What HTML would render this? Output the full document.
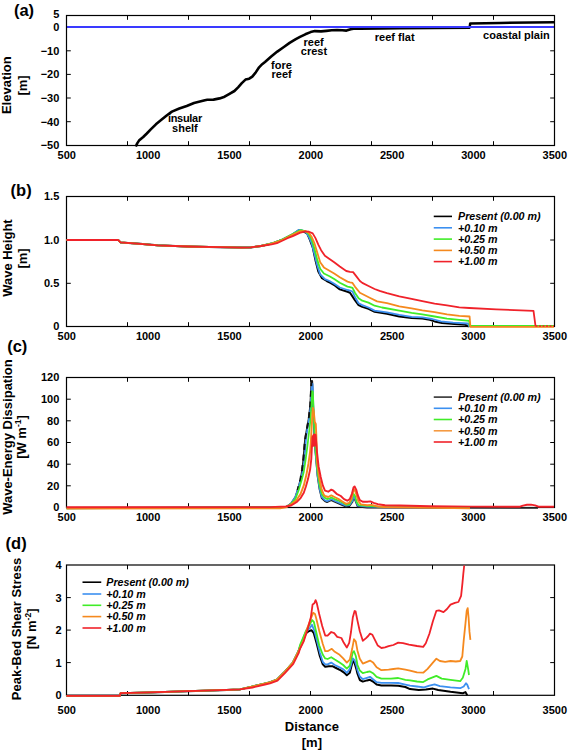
<!DOCTYPE html>
<html><head><meta charset="utf-8"><style>
html,body{margin:0;padding:0;background:#fff;}
body{width:568px;height:750px;overflow:hidden;}
svg{display:block;font-family:"Liberation Sans", sans-serif;}
</style></head><body>
<svg width="568" height="750" viewBox="0 0 568 750">
<rect width="568" height="750" fill="#fff"/>
<text x="13.9" y="16.4" font-size="16.5" font-weight="bold" font-style="normal" text-anchor="start" fill="#000">(a)</text>
<polyline points="135.80,146.50 137.20,143.40 139.00,140.60 143.20,137.00 146.80,133.50 151.00,129.20 155.90,124.30 162.00,119.30 167.00,115.20 171.90,111.60 179.30,108.50 186.70,106.00 194.00,103.00 199.90,101.50 204.90,100.20 207.30,99.70 213.50,99.60 219.60,98.40 224.60,96.70 229.50,93.80 234.40,91.00 238.10,87.30 241.80,83.10 245.50,79.60 249.20,78.70 252.30,76.60 255.40,72.90 259.10,67.30 262.20,64.20 265.00,62.00 271.20,56.50 277.30,51.60 283.50,47.30 289.60,42.90 295.80,39.20 300.00,36.90 305.30,34.30 310.60,32.10 314.80,31.10 321.10,31.40 326.40,30.90 331.70,30.30 337.00,30.00 342.20,30.30 346.50,30.60 350.70,29.30 354.90,28.40 360.00,28.70 382.00,28.40 400.00,28.20" fill="none" stroke="#000000" stroke-width="2.6" stroke-linejoin="round" stroke-linecap="butt" />
<polyline points="400.00,28.20 469.60,27.70 470.20,23.40 500.00,22.90 554.00,22.30" fill="none" stroke="#000000" stroke-width="2.5" stroke-linejoin="round" stroke-linecap="butt" />
<line x1="66.5" y1="27.1" x2="554.5" y2="27.1" stroke="#3a3aff" stroke-width="2.0"/>
<rect x="66.5" y="15.5" width="488.0" height="130.0" fill="none" stroke="#000" stroke-width="1.2"/>
<line x1="127.5" y1="145.5" x2="127.5" y2="141.2" stroke="#000" stroke-width="1"/>
<line x1="127.5" y1="15.5" x2="127.5" y2="19.8" stroke="#000" stroke-width="1"/>
<line x1="188.5" y1="145.5" x2="188.5" y2="141.2" stroke="#000" stroke-width="1"/>
<line x1="188.5" y1="15.5" x2="188.5" y2="19.8" stroke="#000" stroke-width="1"/>
<line x1="249.5" y1="145.5" x2="249.5" y2="141.2" stroke="#000" stroke-width="1"/>
<line x1="249.5" y1="15.5" x2="249.5" y2="19.8" stroke="#000" stroke-width="1"/>
<line x1="310.5" y1="145.5" x2="310.5" y2="141.2" stroke="#000" stroke-width="1"/>
<line x1="310.5" y1="15.5" x2="310.5" y2="19.8" stroke="#000" stroke-width="1"/>
<line x1="371.5" y1="145.5" x2="371.5" y2="141.2" stroke="#000" stroke-width="1"/>
<line x1="371.5" y1="15.5" x2="371.5" y2="19.8" stroke="#000" stroke-width="1"/>
<line x1="432.5" y1="145.5" x2="432.5" y2="141.2" stroke="#000" stroke-width="1"/>
<line x1="432.5" y1="15.5" x2="432.5" y2="19.8" stroke="#000" stroke-width="1"/>
<line x1="493.5" y1="145.5" x2="493.5" y2="141.2" stroke="#000" stroke-width="1"/>
<line x1="493.5" y1="15.5" x2="493.5" y2="19.8" stroke="#000" stroke-width="1"/>
<line x1="66.5" y1="50.8" x2="70.8" y2="50.8" stroke="#000" stroke-width="1"/>
<line x1="554.5" y1="50.8" x2="550.2" y2="50.8" stroke="#000" stroke-width="1"/>
<line x1="66.5" y1="74.4" x2="70.8" y2="74.4" stroke="#000" stroke-width="1"/>
<line x1="554.5" y1="74.4" x2="550.2" y2="74.4" stroke="#000" stroke-width="1"/>
<line x1="66.5" y1="98.0" x2="70.8" y2="98.0" stroke="#000" stroke-width="1"/>
<line x1="554.5" y1="98.0" x2="550.2" y2="98.0" stroke="#000" stroke-width="1"/>
<line x1="66.5" y1="121.7" x2="70.8" y2="121.7" stroke="#000" stroke-width="1"/>
<line x1="554.5" y1="121.7" x2="550.2" y2="121.7" stroke="#000" stroke-width="1"/>
<text x="59.3" y="18.4" font-size="11" font-weight="bold" font-style="normal" text-anchor="end" fill="#000">5</text>
<text x="59.3" y="31.0" font-size="11" font-weight="bold" font-style="normal" text-anchor="end" fill="#000">0</text>
<text x="59.3" y="54.699999999999996" font-size="11" font-weight="bold" font-style="normal" text-anchor="end" fill="#000">&#8722;10</text>
<text x="59.3" y="78.30000000000001" font-size="11" font-weight="bold" font-style="normal" text-anchor="end" fill="#000">&#8722;20</text>
<text x="59.3" y="101.9" font-size="11" font-weight="bold" font-style="normal" text-anchor="end" fill="#000">&#8722;30</text>
<text x="59.3" y="125.60000000000001" font-size="11" font-weight="bold" font-style="normal" text-anchor="end" fill="#000">&#8722;40</text>
<text x="59.3" y="149.20000000000002" font-size="11" font-weight="bold" font-style="normal" text-anchor="end" fill="#000">&#8722;50</text>
<text x="66.8" y="158.9" font-size="11" font-weight="bold" font-style="normal" text-anchor="middle" fill="#000">500</text>
<text x="148.13" y="158.9" font-size="11" font-weight="bold" font-style="normal" text-anchor="middle" fill="#000">1000</text>
<text x="229.46" y="158.9" font-size="11" font-weight="bold" font-style="normal" text-anchor="middle" fill="#000">1500</text>
<text x="310.79" y="158.9" font-size="11" font-weight="bold" font-style="normal" text-anchor="middle" fill="#000">2000</text>
<text x="392.12" y="158.9" font-size="11" font-weight="bold" font-style="normal" text-anchor="middle" fill="#000">2500</text>
<text x="473.45" y="158.9" font-size="11" font-weight="bold" font-style="normal" text-anchor="middle" fill="#000">3000</text>
<text x="554.78" y="158.9" font-size="11" font-weight="bold" font-style="normal" text-anchor="middle" fill="#000">3500</text>
<text x="11.5" y="85.2" font-size="13" font-weight="bold" font-style="normal" text-anchor="middle" fill="#000" transform="rotate(-90 11.5 85.2)">Elevation</text>
<text x="27.2" y="85.4" font-size="13" font-weight="bold" font-style="normal" text-anchor="middle" fill="#000" transform="rotate(-90 27.2 85.4)">[m]</text>
<text x="184.9" y="122.1" font-size="11" font-weight="bold" font-style="normal" text-anchor="middle" fill="#000" letter-spacing="-0.3">insular</text>
<text x="184.9" y="131.6" font-size="11" font-weight="bold" font-style="normal" text-anchor="middle" fill="#000">shelf</text>
<text x="281.5" y="68.7" font-size="11" font-weight="bold" font-style="normal" text-anchor="middle" fill="#000">fore</text>
<text x="281.7" y="78.3" font-size="11" font-weight="bold" font-style="normal" text-anchor="middle" fill="#000">reef</text>
<text x="313.6" y="45.6" font-size="11" font-weight="bold" font-style="normal" text-anchor="middle" fill="#000">reef</text>
<text x="314.0" y="54.8" font-size="11" font-weight="bold" font-style="normal" text-anchor="middle" fill="#000">crest</text>
<text x="394.7" y="41.4" font-size="11" font-weight="bold" font-style="normal" text-anchor="middle" fill="#000">reef flat</text>
<text x="516.4" y="38.6" font-size="11" font-weight="bold" font-style="normal" text-anchor="middle" fill="#000">coastal plain</text>
<text x="10.6" y="195.6" font-size="16.5" font-weight="bold" font-style="normal" text-anchor="start" fill="#000">(b)</text>
<rect x="66.5" y="196.5" width="488.0" height="130.0" fill="none" stroke="#000" stroke-width="1.2"/>
<line x1="127.5" y1="326.5" x2="127.5" y2="322.2" stroke="#000" stroke-width="1"/>
<line x1="127.5" y1="196.5" x2="127.5" y2="200.8" stroke="#000" stroke-width="1"/>
<line x1="188.5" y1="326.5" x2="188.5" y2="322.2" stroke="#000" stroke-width="1"/>
<line x1="188.5" y1="196.5" x2="188.5" y2="200.8" stroke="#000" stroke-width="1"/>
<line x1="249.5" y1="326.5" x2="249.5" y2="322.2" stroke="#000" stroke-width="1"/>
<line x1="249.5" y1="196.5" x2="249.5" y2="200.8" stroke="#000" stroke-width="1"/>
<line x1="310.5" y1="326.5" x2="310.5" y2="322.2" stroke="#000" stroke-width="1"/>
<line x1="310.5" y1="196.5" x2="310.5" y2="200.8" stroke="#000" stroke-width="1"/>
<line x1="371.5" y1="326.5" x2="371.5" y2="322.2" stroke="#000" stroke-width="1"/>
<line x1="371.5" y1="196.5" x2="371.5" y2="200.8" stroke="#000" stroke-width="1"/>
<line x1="432.5" y1="326.5" x2="432.5" y2="322.2" stroke="#000" stroke-width="1"/>
<line x1="432.5" y1="196.5" x2="432.5" y2="200.8" stroke="#000" stroke-width="1"/>
<line x1="493.5" y1="326.5" x2="493.5" y2="322.2" stroke="#000" stroke-width="1"/>
<line x1="493.5" y1="196.5" x2="493.5" y2="200.8" stroke="#000" stroke-width="1"/>
<line x1="66.5" y1="240.0" x2="70.8" y2="240.0" stroke="#000" stroke-width="1"/>
<line x1="554.5" y1="240.0" x2="550.2" y2="240.0" stroke="#000" stroke-width="1"/>
<line x1="66.5" y1="283.3" x2="70.8" y2="283.3" stroke="#000" stroke-width="1"/>
<line x1="554.5" y1="283.3" x2="550.2" y2="283.3" stroke="#000" stroke-width="1"/>
<text x="59.3" y="200.4" font-size="11" font-weight="bold" font-style="normal" text-anchor="end" fill="#000">1.5</text>
<text x="59.3" y="243.9" font-size="11" font-weight="bold" font-style="normal" text-anchor="end" fill="#000">1.0</text>
<text x="59.3" y="287.2" font-size="11" font-weight="bold" font-style="normal" text-anchor="end" fill="#000">0.5</text>
<text x="59.3" y="330.4" font-size="11" font-weight="bold" font-style="normal" text-anchor="end" fill="#000">0</text>
<text x="66.8" y="339.9" font-size="11" font-weight="bold" font-style="normal" text-anchor="middle" fill="#000">500</text>
<text x="148.13" y="339.9" font-size="11" font-weight="bold" font-style="normal" text-anchor="middle" fill="#000">1000</text>
<text x="229.46" y="339.9" font-size="11" font-weight="bold" font-style="normal" text-anchor="middle" fill="#000">1500</text>
<text x="310.79" y="339.9" font-size="11" font-weight="bold" font-style="normal" text-anchor="middle" fill="#000">2000</text>
<text x="392.12" y="339.9" font-size="11" font-weight="bold" font-style="normal" text-anchor="middle" fill="#000">2500</text>
<text x="473.45" y="339.9" font-size="11" font-weight="bold" font-style="normal" text-anchor="middle" fill="#000">3000</text>
<text x="554.78" y="339.9" font-size="11" font-weight="bold" font-style="normal" text-anchor="middle" fill="#000">3500</text>
<polyline points="66.50,240.00 118.20,240.00 120.50,242.40 140.00,243.80 157.50,245.30 187.50,246.50 220.00,247.20 242.00,247.60 250.60,247.40 261.10,246.00 271.70,243.60 282.20,239.80 292.80,234.30 298.70,230.30 302.00,230.80 307.10,233.40 309.90,239.90 312.70,247.40 315.50,260.40 318.30,271.60 322.00,278.20 326.70,281.00 330.40,282.80 335.10,285.60 339.80,289.40 347.50,291.80 350.00,292.70 354.90,300.10 358.60,305.10 362.30,306.90 368.50,308.80 374.60,311.80 387.00,313.70 399.30,316.50 411.60,318.00 422.30,318.60 429.70,319.80 434.60,321.40 442.00,323.00 454.40,323.90 465.50,324.80 468.80,326.50" fill="none" stroke="#000000" stroke-width="2.0" stroke-linejoin="round" stroke-linecap="butt" />
<polyline points="66.50,240.00 118.20,240.00 120.50,242.40 140.00,243.80 157.50,245.30 187.50,246.50 220.00,247.20 242.00,247.60 250.60,247.40 261.10,246.00 271.70,243.50 282.20,239.60 292.80,234.00 298.70,229.90 302.00,230.30 306.20,232.50 309.00,237.10 311.80,243.70 314.60,254.90 317.40,266.00 320.20,274.40 324.90,279.10 329.50,281.00 334.20,283.80 339.80,287.50 347.50,290.00 350.00,290.60 352.50,291.50 354.90,297.00 358.60,303.20 362.30,305.10 368.50,307.50 374.60,310.60 387.00,312.40 399.30,314.90 411.60,316.80 422.30,317.40 432.20,319.00 440.80,321.40 453.10,322.70 467.90,323.50 469.30,326.50" fill="none" stroke="#3c90f0" stroke-width="1.8" stroke-linejoin="round" stroke-linecap="butt" />
<polyline points="66.50,240.00 118.20,240.00 120.50,242.40 140.00,243.80 157.50,245.30 187.50,246.50 220.00,247.20 242.00,247.60 250.60,247.40 261.10,246.00 271.70,243.50 282.20,239.60 292.80,234.00 300.60,230.10 305.30,231.10 309.00,234.30 311.80,239.90 314.60,249.30 317.40,260.40 320.20,268.80 323.90,273.50 329.50,276.30 334.20,279.10 339.80,282.80 347.50,286.60 350.00,287.20 352.50,287.80 354.90,292.70 358.60,298.30 362.30,300.70 368.50,302.60 374.60,305.70 382.00,307.50 399.30,310.60 411.60,312.80 422.30,314.40 434.60,316.50 447.00,318.60 459.30,319.80 469.20,320.80 469.80,326.00 554.00,326.00" fill="none" stroke="#40ec28" stroke-width="1.8" stroke-linejoin="round" stroke-linecap="butt" />
<polyline points="66.50,240.00 118.20,240.00 120.50,242.40 140.00,243.80 157.50,245.30 187.50,246.50 220.00,247.20 242.00,247.60 250.60,247.40 261.10,246.00 271.70,243.60 282.20,240.00 292.80,234.50 300.00,231.20 305.30,231.10 309.00,232.90 311.80,237.10 314.60,243.70 317.40,253.00 320.20,262.30 323.90,267.40 328.60,270.20 334.20,273.50 339.80,277.20 347.50,281.60 350.00,282.30 352.50,282.90 354.90,286.60 359.90,292.70 364.80,295.20 369.70,297.70 377.10,301.40 387.00,303.20 399.30,306.30 411.60,308.40 422.30,310.30 434.60,312.20 447.00,314.40 459.30,315.90 469.60,316.50 470.40,326.90 554.00,326.90" fill="none" stroke="#f5891e" stroke-width="1.8" stroke-linejoin="round" stroke-linecap="butt" />
<polyline points="66.50,240.00 118.20,240.00 120.50,242.40 140.00,243.80 157.50,245.30 187.50,246.50 220.00,247.20 242.00,247.60 250.60,247.40 261.10,246.00 271.70,244.30 277.00,243.20 282.20,240.80 287.50,238.20 292.80,236.10 299.70,232.90 305.30,231.30 309.00,231.70 312.70,233.40 315.50,238.10 318.30,244.60 321.10,250.20 324.90,255.80 329.50,259.00 334.20,262.30 339.80,266.50 346.25,271.00 350.00,271.80 353.10,272.10 356.20,276.10 359.90,281.00 362.30,282.90 368.50,286.00 374.60,289.00 379.60,290.90 387.00,293.10 399.30,296.40 411.60,298.90 422.30,301.10 434.60,303.60 447.00,305.40 459.30,307.30 469.30,308.00 496.30,309.30 533.50,310.90 535.50,326.00" fill="none" stroke="#f0222a" stroke-width="1.8" stroke-linejoin="round" stroke-linecap="butt" />
<polyline points="535.50,326.00 554.00,326.00" fill="none" stroke="#f0222a" stroke-width="1.4" stroke-linejoin="round" stroke-linecap="butt" stroke-dasharray="2,1.5"/>
<line x1="433.75" y1="216.4" x2="452" y2="216.4" stroke="#000000" stroke-width="1.6"/>
<text x="458" y="220.25" font-size="10.7" font-weight="bold" font-style="italic" text-anchor="start" fill="#000">Present (0.00 m)</text>
<line x1="433.75" y1="227.8" x2="452" y2="227.8" stroke="#3c90f0" stroke-width="1.6"/>
<text x="458" y="231.65" font-size="10.7" font-weight="bold" font-style="italic" text-anchor="start" fill="#000">+0.10 m</text>
<line x1="433.75" y1="239.1" x2="452" y2="239.1" stroke="#40ec28" stroke-width="1.6"/>
<text x="458" y="242.95" font-size="10.7" font-weight="bold" font-style="italic" text-anchor="start" fill="#000">+0.25 m</text>
<line x1="433.75" y1="250.4" x2="452" y2="250.4" stroke="#f5891e" stroke-width="1.6"/>
<text x="458" y="254.25" font-size="10.7" font-weight="bold" font-style="italic" text-anchor="start" fill="#000">+0.50 m</text>
<line x1="433.75" y1="261.6" x2="452" y2="261.6" stroke="#f0222a" stroke-width="1.6"/>
<text x="458" y="265.45000000000005" font-size="10.7" font-weight="bold" font-style="italic" text-anchor="start" fill="#000">+1.00 m</text>
<text x="12.0" y="258.1" font-size="13" font-weight="bold" font-style="normal" text-anchor="middle" fill="#000" transform="rotate(-90 12.0 258.1)">Wave Height</text>
<text x="27.3" y="258.5" font-size="13" font-weight="bold" font-style="normal" text-anchor="middle" fill="#000" transform="rotate(-90 27.3 258.5)">[m]</text>
<text x="7.2" y="351.9" font-size="16.5" font-weight="bold" font-style="normal" text-anchor="start" fill="#000">(c)</text>
<rect x="66.5" y="377.5" width="488.0" height="130.0" fill="none" stroke="#000" stroke-width="1.2"/>
<line x1="127.5" y1="507.5" x2="127.5" y2="503.2" stroke="#000" stroke-width="1"/>
<line x1="127.5" y1="377.5" x2="127.5" y2="381.8" stroke="#000" stroke-width="1"/>
<line x1="188.5" y1="507.5" x2="188.5" y2="503.2" stroke="#000" stroke-width="1"/>
<line x1="188.5" y1="377.5" x2="188.5" y2="381.8" stroke="#000" stroke-width="1"/>
<line x1="249.5" y1="507.5" x2="249.5" y2="503.2" stroke="#000" stroke-width="1"/>
<line x1="249.5" y1="377.5" x2="249.5" y2="381.8" stroke="#000" stroke-width="1"/>
<line x1="310.5" y1="507.5" x2="310.5" y2="503.2" stroke="#000" stroke-width="1"/>
<line x1="310.5" y1="377.5" x2="310.5" y2="381.8" stroke="#000" stroke-width="1"/>
<line x1="371.5" y1="507.5" x2="371.5" y2="503.2" stroke="#000" stroke-width="1"/>
<line x1="371.5" y1="377.5" x2="371.5" y2="381.8" stroke="#000" stroke-width="1"/>
<line x1="432.5" y1="507.5" x2="432.5" y2="503.2" stroke="#000" stroke-width="1"/>
<line x1="432.5" y1="377.5" x2="432.5" y2="381.8" stroke="#000" stroke-width="1"/>
<line x1="493.5" y1="507.5" x2="493.5" y2="503.2" stroke="#000" stroke-width="1"/>
<line x1="493.5" y1="377.5" x2="493.5" y2="381.8" stroke="#000" stroke-width="1"/>
<line x1="66.5" y1="399.2" x2="70.8" y2="399.2" stroke="#000" stroke-width="1"/>
<line x1="554.5" y1="399.2" x2="550.2" y2="399.2" stroke="#000" stroke-width="1"/>
<line x1="66.5" y1="420.8" x2="70.8" y2="420.8" stroke="#000" stroke-width="1"/>
<line x1="554.5" y1="420.8" x2="550.2" y2="420.8" stroke="#000" stroke-width="1"/>
<line x1="66.5" y1="442.5" x2="70.8" y2="442.5" stroke="#000" stroke-width="1"/>
<line x1="554.5" y1="442.5" x2="550.2" y2="442.5" stroke="#000" stroke-width="1"/>
<line x1="66.5" y1="464.2" x2="70.8" y2="464.2" stroke="#000" stroke-width="1"/>
<line x1="554.5" y1="464.2" x2="550.2" y2="464.2" stroke="#000" stroke-width="1"/>
<line x1="66.5" y1="485.8" x2="70.8" y2="485.8" stroke="#000" stroke-width="1"/>
<line x1="554.5" y1="485.8" x2="550.2" y2="485.8" stroke="#000" stroke-width="1"/>
<text x="59.3" y="381.4" font-size="11" font-weight="bold" font-style="normal" text-anchor="end" fill="#000">120</text>
<text x="59.3" y="403.09999999999997" font-size="11" font-weight="bold" font-style="normal" text-anchor="end" fill="#000">100</text>
<text x="59.3" y="424.7" font-size="11" font-weight="bold" font-style="normal" text-anchor="end" fill="#000">80</text>
<text x="59.3" y="446.4" font-size="11" font-weight="bold" font-style="normal" text-anchor="end" fill="#000">60</text>
<text x="59.3" y="468.09999999999997" font-size="11" font-weight="bold" font-style="normal" text-anchor="end" fill="#000">40</text>
<text x="59.3" y="489.7" font-size="11" font-weight="bold" font-style="normal" text-anchor="end" fill="#000">20</text>
<text x="59.3" y="511.4" font-size="11" font-weight="bold" font-style="normal" text-anchor="end" fill="#000">0</text>
<text x="66.8" y="521.1" font-size="11" font-weight="bold" font-style="normal" text-anchor="middle" fill="#000">500</text>
<text x="148.13" y="521.1" font-size="11" font-weight="bold" font-style="normal" text-anchor="middle" fill="#000">1000</text>
<text x="229.46" y="521.1" font-size="11" font-weight="bold" font-style="normal" text-anchor="middle" fill="#000">1500</text>
<text x="310.79" y="521.1" font-size="11" font-weight="bold" font-style="normal" text-anchor="middle" fill="#000">2000</text>
<text x="392.12" y="521.1" font-size="11" font-weight="bold" font-style="normal" text-anchor="middle" fill="#000">2500</text>
<text x="473.45" y="521.1" font-size="11" font-weight="bold" font-style="normal" text-anchor="middle" fill="#000">3000</text>
<text x="554.78" y="521.1" font-size="11" font-weight="bold" font-style="normal" text-anchor="middle" fill="#000">3500</text>
<polyline points="66.50,508.00 285.80,507.20 291.10,503.60 295.30,497.20 298.30,488.00 300.80,478.50 302.50,468.00 303.30,460.00 305.00,440.00 306.70,430.00 308.70,419.00 310.30,405.00 311.50,381.00 312.20,381.00 312.80,395.00 313.60,420.00 314.60,440.00 315.40,451.00 317.50,475.50 319.60,489.50 321.70,498.00 324.90,501.20 327.00,502.20 330.00,500.80 331.30,500.10 334.50,501.70 343.00,505.40 346.10,506.70 349.30,506.20 352.50,501.70 353.70,497.20 355.60,501.20 357.70,506.70 367.20,507.60 538.00,507.90" fill="none" stroke="#222" stroke-width="1.8" stroke-linejoin="round" stroke-linecap="butt" />
<polyline points="66.50,508.30 285.80,507.20 291.10,503.40 295.30,497.00 298.50,487.50 301.20,478.00 303.30,468.50 304.80,455.80 305.90,440.00 307.50,428.00 309.20,418.00 310.60,407.00 311.90,383.50 312.60,384.00 313.00,395.00 313.80,420.00 314.80,440.00 315.40,450.60 317.50,474.80 319.60,488.60 321.70,497.00 324.90,500.20 327.00,501.20 330.00,499.90 331.30,499.10 334.50,500.70 343.00,504.40 346.10,505.70 349.30,505.20 352.50,500.70 353.70,496.00 355.60,500.20 357.70,505.70 367.20,506.70 400.00,507.20 470.00,507.50" fill="none" stroke="#3c90f0" stroke-width="1.7" stroke-linejoin="round" stroke-linecap="butt" />
<polyline points="297.50,490.00 300.30,480.00 302.00,470.00 303.30,460.00 305.00,440.00 306.70,430.00 308.70,419.00 310.30,405.00 311.50,381.00" fill="none" stroke="#111" stroke-width="2.0" stroke-linejoin="round" stroke-linecap="butt" stroke-dasharray="6,4.7" stroke-dashoffset="2"/>
<polyline points="66.50,508.30 285.80,507.10 291.10,503.90 295.30,499.10 298.50,490.70 301.70,480.10 303.80,471.70 305.90,458.00 307.50,445.30 308.50,437.00 310.50,420.00 311.50,405.00 312.20,391.00 312.90,392.00 313.40,405.00 314.40,430.00 315.40,448.40 317.50,471.70 319.60,485.40 321.70,493.90 324.40,497.60 327.00,499.10 330.00,498.30 331.30,497.50 334.50,499.10 338.70,500.70 343.00,502.80 346.10,504.90 349.30,504.40 351.90,499.10 353.50,493.80 355.10,496.00 356.70,502.30 358.80,505.20 367.20,506.00 385.00,507.00 470.00,507.40" fill="none" stroke="#40ec28" stroke-width="1.7" stroke-linejoin="round" stroke-linecap="butt" />
<polyline points="66.50,508.60 280.00,508.40 285.80,507.30 291.10,504.40 296.40,500.20 300.60,493.90 303.80,485.40 306.40,474.80 308.50,463.20 310.10,451.60 310.80,443.00 311.50,430.00 312.20,418.00 312.90,408.00 313.70,411.00 314.80,422.00 315.80,424.00 316.30,435.00 316.60,445.00 317.00,461.10 319.10,477.00 321.70,489.60 323.90,494.90 325.00,496.00 328.20,497.00 331.30,495.40 334.50,497.00 338.70,499.10 341.90,501.20 346.10,503.90 349.30,502.80 351.40,499.10 353.30,490.70 354.60,489.60 356.20,493.80 358.30,501.20 360.90,504.40 367.20,505.20 371.50,504.90 377.80,506.50 385.00,507.00 470.00,508.40" fill="none" stroke="#f5891e" stroke-width="1.9" stroke-linejoin="round" stroke-linecap="butt" />
<polyline points="66.50,507.20 270.00,507.10 285.80,506.50 291.10,505.50 296.40,502.30 300.60,498.10 303.80,492.80 305.90,486.50 308.00,479.10 310.10,469.60 311.30,459.00 311.90,447.00 312.50,437.00 314.00,434.50 315.60,435.00 316.40,444.00 317.00,452.00 318.60,466.40 320.70,477.00 322.80,485.40 325.00,490.70 328.20,491.70 331.30,489.60 333.40,490.70 336.60,493.80 340.80,496.00 344.00,499.10 347.20,500.70 349.80,499.10 351.90,493.80 353.50,487.50 354.60,486.40 356.20,489.60 357.70,494.90 359.80,500.20 363.00,501.80 367.20,501.80 370.40,501.40 373.60,502.80 377.80,504.20 385.00,505.20 400.00,505.50 430.00,506.20 472.00,506.60 520.00,506.70 523.00,505.60 527.00,504.70 531.00,504.60 535.00,505.40 538.50,506.70 554.00,506.80" fill="none" stroke="#f0222a" stroke-width="1.9" stroke-linejoin="round" stroke-linecap="butt" />
<polygon points="312.2,436 315.8,434 316.9,446 312.0,447" fill="#f0222a"/>
<line x1="433.75" y1="397.1" x2="452" y2="397.1" stroke="#333" stroke-width="1.6"/>
<text x="458" y="400.95000000000005" font-size="10.7" font-weight="bold" font-style="italic" text-anchor="start" fill="#000">Present (0.00 m)</text>
<line x1="433.75" y1="408.3" x2="452" y2="408.3" stroke="#3c90f0" stroke-width="1.6"/>
<text x="458" y="412.15000000000003" font-size="10.7" font-weight="bold" font-style="italic" text-anchor="start" fill="#000">+0.10 m</text>
<line x1="433.75" y1="419.5" x2="452" y2="419.5" stroke="#40ec28" stroke-width="1.6"/>
<text x="458" y="423.35" font-size="10.7" font-weight="bold" font-style="italic" text-anchor="start" fill="#000">+0.25 m</text>
<line x1="433.75" y1="430.8" x2="452" y2="430.8" stroke="#f59a42" stroke-width="1.6"/>
<text x="458" y="434.65000000000003" font-size="10.7" font-weight="bold" font-style="italic" text-anchor="start" fill="#000">+0.50 m</text>
<line x1="433.75" y1="442.0" x2="452" y2="442.0" stroke="#f0222a" stroke-width="1.6"/>
<text x="458" y="445.85" font-size="10.7" font-weight="bold" font-style="italic" text-anchor="start" fill="#000">+1.00 m</text>
<text x="11.8" y="437.1" font-size="13" font-weight="bold" font-style="normal" text-anchor="middle" fill="#000" transform="rotate(-90 11.8 437.1)">Wave-Energy Dissipation</text>
<text x="26.0" y="437.0" font-size="13" font-weight="bold" text-anchor="middle" transform="rotate(-90 26.0 437.0)">[W m<tspan font-size="8.5" dy="-5">-1</tspan><tspan dy="5">]</tspan></text>
<text x="5.6" y="548.7" font-size="16.5" font-weight="bold" font-style="normal" text-anchor="start" fill="#000">(d)</text>
<rect x="66.5" y="565.0" width="488.0" height="130.29999999999995" fill="none" stroke="#000" stroke-width="1.2"/>
<line x1="127.5" y1="695.3" x2="127.5" y2="691.0" stroke="#000" stroke-width="1"/>
<line x1="127.5" y1="565.0" x2="127.5" y2="569.3" stroke="#000" stroke-width="1"/>
<line x1="188.5" y1="695.3" x2="188.5" y2="691.0" stroke="#000" stroke-width="1"/>
<line x1="188.5" y1="565.0" x2="188.5" y2="569.3" stroke="#000" stroke-width="1"/>
<line x1="249.5" y1="695.3" x2="249.5" y2="691.0" stroke="#000" stroke-width="1"/>
<line x1="249.5" y1="565.0" x2="249.5" y2="569.3" stroke="#000" stroke-width="1"/>
<line x1="310.5" y1="695.3" x2="310.5" y2="691.0" stroke="#000" stroke-width="1"/>
<line x1="310.5" y1="565.0" x2="310.5" y2="569.3" stroke="#000" stroke-width="1"/>
<line x1="371.5" y1="695.3" x2="371.5" y2="691.0" stroke="#000" stroke-width="1"/>
<line x1="371.5" y1="565.0" x2="371.5" y2="569.3" stroke="#000" stroke-width="1"/>
<line x1="432.5" y1="695.3" x2="432.5" y2="691.0" stroke="#000" stroke-width="1"/>
<line x1="432.5" y1="565.0" x2="432.5" y2="569.3" stroke="#000" stroke-width="1"/>
<line x1="493.5" y1="695.3" x2="493.5" y2="691.0" stroke="#000" stroke-width="1"/>
<line x1="493.5" y1="565.0" x2="493.5" y2="569.3" stroke="#000" stroke-width="1"/>
<line x1="66.5" y1="597.6" x2="70.8" y2="597.6" stroke="#000" stroke-width="1"/>
<line x1="554.5" y1="597.6" x2="550.2" y2="597.6" stroke="#000" stroke-width="1"/>
<line x1="66.5" y1="630.1" x2="70.8" y2="630.1" stroke="#000" stroke-width="1"/>
<line x1="554.5" y1="630.1" x2="550.2" y2="630.1" stroke="#000" stroke-width="1"/>
<line x1="66.5" y1="662.6" x2="70.8" y2="662.6" stroke="#000" stroke-width="1"/>
<line x1="554.5" y1="662.6" x2="550.2" y2="662.6" stroke="#000" stroke-width="1"/>
<text x="61.6" y="568.9" font-size="11" font-weight="bold" font-style="normal" text-anchor="end" fill="#000">4</text>
<text x="61.6" y="601.5" font-size="11" font-weight="bold" font-style="normal" text-anchor="end" fill="#000">3</text>
<text x="61.6" y="634.0" font-size="11" font-weight="bold" font-style="normal" text-anchor="end" fill="#000">2</text>
<text x="61.6" y="666.5" font-size="11" font-weight="bold" font-style="normal" text-anchor="end" fill="#000">1</text>
<text x="61.6" y="699.1999999999999" font-size="11" font-weight="bold" font-style="normal" text-anchor="end" fill="#000">0</text>
<text x="66.8" y="713.8" font-size="11" font-weight="bold" font-style="normal" text-anchor="middle" fill="#000">500</text>
<text x="148.13" y="713.8" font-size="11" font-weight="bold" font-style="normal" text-anchor="middle" fill="#000">1000</text>
<text x="229.46" y="713.8" font-size="11" font-weight="bold" font-style="normal" text-anchor="middle" fill="#000">1500</text>
<text x="310.79" y="713.8" font-size="11" font-weight="bold" font-style="normal" text-anchor="middle" fill="#000">2000</text>
<text x="392.12" y="713.8" font-size="11" font-weight="bold" font-style="normal" text-anchor="middle" fill="#000">2500</text>
<text x="473.45" y="713.8" font-size="11" font-weight="bold" font-style="normal" text-anchor="middle" fill="#000">3000</text>
<text x="554.78" y="713.8" font-size="11" font-weight="bold" font-style="normal" text-anchor="middle" fill="#000">3500</text>
<polyline points="66.50,695.80 119.80,695.80 120.60,693.20 150.00,692.40 187.50,691.20 220.00,690.20 240.00,689.40 251.90,686.60 264.40,683.60 269.40,682.50 276.90,679.70 284.30,672.30 292.70,662.90 298.30,651.70 300.00,647.50 306.00,633.20 308.40,631.40 311.40,630.20 313.80,633.20 316.80,644.00 319.80,656.00 322.80,664.40 325.20,666.80 328.80,666.20 332.40,666.20 336.00,668.00 340.80,670.40 344.40,672.80 346.80,675.20 349.80,672.80 352.80,660.80 354.60,663.20 356.40,669.20 357.40,673.50 359.80,680.00 362.80,681.60 367.00,680.40 370.00,679.80 373.00,681.60 376.60,684.60 381.40,685.40 391.00,685.40 398.20,685.80 405.40,687.00 410.00,689.10 418.80,690.00 425.80,689.60 432.90,688.60 438.20,690.00 450.50,691.80 462.80,693.20 465.50,692.10 467.20,695.30" fill="none" stroke="#000000" stroke-width="2.0" stroke-linejoin="round" stroke-linecap="butt" />
<polyline points="66.50,695.80 119.80,695.80 120.60,693.20 150.00,692.40 187.50,691.20 220.00,690.20 240.00,689.40 251.90,686.60 264.40,683.60 269.40,682.50 276.90,679.70 284.30,672.30 292.70,662.90 298.30,651.70 300.00,646.50 306.00,631.40 309.60,628.40 312.00,624.80 314.40,630.80 316.80,640.40 319.80,652.40 322.80,662.00 325.20,664.40 327.60,664.40 331.20,662.60 334.80,665.00 339.60,667.40 343.20,669.20 346.80,672.80 349.80,669.20 352.80,658.40 354.60,660.20 356.40,665.60 357.40,670.00 359.80,676.50 362.80,679.20 367.00,677.80 370.00,676.80 373.00,679.20 376.60,682.20 381.40,682.80 391.00,682.80 398.20,683.00 405.40,684.60 410.00,685.60 417.00,686.50 424.10,687.40 429.40,685.60 434.60,684.40 439.90,686.10 450.50,687.40 460.20,688.20 463.70,686.50 466.00,683.30 467.20,684.70 469.00,689.10" fill="none" stroke="#3c90f0" stroke-width="1.8" stroke-linejoin="round" stroke-linecap="butt" />
<polyline points="66.50,695.80 119.80,695.80 120.60,693.20 150.00,692.40 187.50,691.20 220.00,690.20 240.00,689.40 251.90,686.60 264.40,683.60 269.40,682.50 276.90,679.70 284.30,672.30 292.70,662.90 298.30,651.70 300.00,645.20 306.00,630.80 309.60,624.80 312.00,620.00 313.80,621.80 316.20,632.00 319.20,645.20 322.80,654.80 325.20,658.40 327.60,659.00 331.20,657.20 334.80,659.60 339.60,662.60 343.20,665.00 346.80,668.60 349.80,665.60 352.80,652.40 354.00,651.20 355.80,656.00 357.50,665.00 359.80,670.50 362.80,673.20 367.00,672.00 370.00,671.40 373.00,673.20 376.60,676.80 381.40,678.60 391.00,678.60 398.20,678.00 405.40,679.80 410.00,680.30 417.00,681.50 423.20,682.10 427.60,679.40 436.40,675.90 441.70,678.60 450.50,679.80 460.20,681.20 462.80,677.70 465.50,668.90 466.70,661.00 468.10,668.90 469.00,675.00" fill="none" stroke="#40ec28" stroke-width="1.8" stroke-linejoin="round" stroke-linecap="butt" />
<polyline points="66.50,695.80 119.80,695.80 120.60,693.20 150.00,692.40 187.50,691.20 220.00,690.20 240.00,689.40 251.90,686.60 264.40,683.60 269.40,682.50 276.90,679.70 284.30,672.30 292.70,662.90 298.30,651.70 303.60,640.50 307.20,628.40 310.80,618.80 313.20,612.80 315.00,614.00 316.20,618.20 319.20,630.80 322.80,644.00 325.20,651.20 327.60,651.20 331.80,648.80 334.80,651.80 339.60,654.80 343.20,658.40 346.80,662.60 349.80,659.60 352.20,648.80 354.00,639.20 355.80,641.60 357.40,650.40 359.80,658.80 362.80,663.60 367.00,661.80 370.00,660.60 373.00,662.40 376.60,667.20 381.40,670.20 388.60,669.60 393.40,669.00 398.20,668.40 405.40,669.60 410.00,670.60 417.00,672.40 423.20,672.70 427.60,668.90 432.90,662.70 436.40,658.70 439.90,661.00 445.20,661.80 450.50,661.00 455.80,661.50 460.20,661.00 462.30,656.50 463.70,640.70 465.50,623.10 466.70,610.80 467.70,608.10 468.60,617.80 469.50,631.90 470.40,639.80" fill="none" stroke="#f5891e" stroke-width="1.8" stroke-linejoin="round" stroke-linecap="butt" />
<polyline points="66.50,695.80 119.80,695.80 120.60,693.20 150.00,692.40 187.50,691.20 220.00,690.20 240.00,689.40 252.50,687.50 265.00,684.50 270.00,683.40 277.50,680.60 284.90,673.20 293.30,663.80 298.90,652.60 300.00,648.80 303.60,641.60 307.20,630.80 310.80,617.60 312.60,604.40 314.40,603.20 315.60,600.20 316.80,603.20 319.20,614.00 322.20,626.00 325.20,635.60 327.60,635.60 331.20,632.00 334.20,633.20 337.20,636.80 341.40,638.00 343.80,642.80 346.80,647.60 349.20,642.80 351.00,632.00 352.80,617.60 354.60,611.00 355.60,611.40 357.40,620.40 359.80,631.20 362.80,640.80 365.80,638.40 368.20,636.00 370.00,633.60 372.40,634.80 374.80,639.60 377.80,645.60 381.40,648.00 385.00,647.40 388.60,646.20 393.40,645.00 398.20,642.60 403.00,643.20 409.00,644.60 417.00,646.00 423.20,646.90 425.80,643.30 429.40,633.70 432.90,621.30 436.40,610.80 439.00,610.40 443.50,612.20 447.00,609.00 450.50,604.60 454.90,602.90 458.40,602.00 461.10,595.80 462.50,582.60 463.30,573.80 464.20,565.50" fill="none" stroke="#f0222a" stroke-width="1.8" stroke-linejoin="round" stroke-linecap="butt" />
<line x1="82.5" y1="582.2" x2="101.25" y2="582.2" stroke="#000000" stroke-width="1.6"/>
<text x="106.25" y="586.0500000000001" font-size="10.7" font-weight="bold" font-style="italic" text-anchor="start" fill="#000">Present (0.00 m)</text>
<line x1="82.5" y1="594.0" x2="101.25" y2="594.0" stroke="#3c90f0" stroke-width="1.6"/>
<text x="106.25" y="597.85" font-size="10.7" font-weight="bold" font-style="italic" text-anchor="start" fill="#000">+0.10 m</text>
<line x1="82.5" y1="605.3" x2="101.25" y2="605.3" stroke="#40ec28" stroke-width="1.6"/>
<text x="106.25" y="609.15" font-size="10.7" font-weight="bold" font-style="italic" text-anchor="start" fill="#000">+0.25 m</text>
<line x1="82.5" y1="616.6" x2="101.25" y2="616.6" stroke="#f5891e" stroke-width="1.6"/>
<text x="106.25" y="620.45" font-size="10.7" font-weight="bold" font-style="italic" text-anchor="start" fill="#000">+0.50 m</text>
<line x1="82.5" y1="628.0" x2="101.25" y2="628.0" stroke="#f0222a" stroke-width="1.6"/>
<text x="106.25" y="631.85" font-size="10.7" font-weight="bold" font-style="italic" text-anchor="start" fill="#000">+1.00 m</text>
<text x="20.9" y="629.0" font-size="13" font-weight="bold" font-style="normal" text-anchor="middle" fill="#000" transform="rotate(-90 20.9 629.0)">Peak-Bed Shear Stress</text>
<text x="36.0" y="628.9" font-size="13" font-weight="bold" text-anchor="middle" transform="rotate(-90 36.0 628.9)">[N m<tspan font-size="8.5" dy="-5">-2</tspan><tspan dy="5">]</tspan></text>
<text x="311.9" y="731.2" font-size="13" font-weight="bold" font-style="normal" text-anchor="middle" fill="#000">Distance</text>
<text x="311.9" y="746.7" font-size="13" font-weight="bold" font-style="normal" text-anchor="middle" fill="#000">[m]</text>
</svg>
</body></html>
